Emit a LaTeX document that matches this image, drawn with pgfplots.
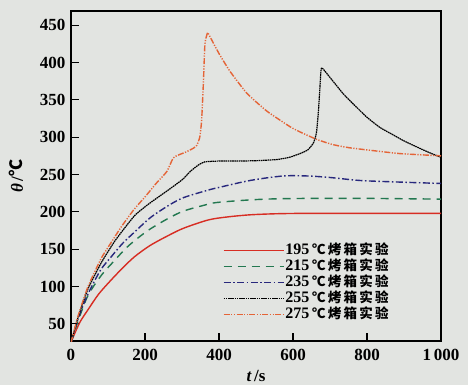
\documentclass[border=0pt]{standalone}
\usepackage{pgfplots}
\pgfplotsset{compat=1.18}
\usepackage{fontspec}
\setmainfont{Liberation Serif}
\newfontfamily\cjk{Noto Sans CJK SC}
\usetikzlibrary{backgrounds}
\definecolor{bg}{RGB}{226,228,225}
\definecolor{cred}{RGB}{215,45,35}
\definecolor{cgreen}{RGB}{35,120,80}
\definecolor{cblue}{RGB}{40,40,125}
\definecolor{corange}{RGB}{228,100,55}
\newcommand{\leg}[1]{#1\,{\cjk\fontsize{13.5}{14}\selectfont ℃\,烤\,箱\,实\,验}}
\begin{document}
\begin{tikzpicture}
\begin{axis}[name=ax,
  scale only axis, width=370pt, height=330pt,
  xmin=0, xmax=1000, ymin=27, ymax=469,
  xtick={0,200,400,600,800,1000},
  xticklabels={0,200,400,600,800,1\,000},
  ytick={50,100,...,450},
  tick align=inside, xtick pos=bottom, ytick pos=left,
  major tick length=8pt,
  tick style={line width=1.1pt, black},
  axis line style={line width=1.3pt},
  ticklabel style={font=\fontsize{17}{19}\selectfont\bfseries},
  xticklabel style={yshift=-5pt},
  yticklabel style={xshift=-2pt},
  /pgf/number format/assume math mode=true,
  xlabel={\bfseries\itshape t\,\upshape /s},
  ylabel={\bfseries\itshape θ\,\upshape/\cjk ℃},
  label style={font=\fontsize{17}{19}\selectfont},
  xlabel style={yshift=-2pt},
  ylabel style={yshift=10pt},
  legend style={draw=none, fill=none, at={(0.41,0.055)}, anchor=south west,
    font=\fontsize{16}{16}\selectfont\bfseries, row sep=0pt, inner sep=0pt,
    nodes={inner sep=1pt, text height=11pt, text depth=3pt}},
  legend cell align=left,
  legend image code/.code={\draw[#1, line width=1.5pt] (0pt,0pt) -- (60pt,0pt);},
  legend columns=1,
]
\addplot[cred, line width=1.4pt, smooth] coordinates {
(0,25) (10,37) (25,53) (46,69) (75,90) (109,109) (140,125) (172,140) (214,155) (262,168) (304,178) (370,189) (420,193) (484,196) (560,197.5) (650,198) (800,198) (1000,198)};
\addlegendentry{\leg{195}}
\addplot[cgreen, line width=1.4pt, dash pattern=on 8pt off 6pt, smooth] coordinates {
(0,25) (20,55) (46,88) (82,115) (118,135) (150,152) (181,165) (214,177) (262,191) (304,201) (361,209) (394,212.5) (484,216) (560,217.5) (650,218) (800,218) (1000,217)};
\addlegendentry{\leg{215}}
\addplot[cblue, line width=1.4pt, dash pattern=on 7pt off 2.5pt on 1.5pt off 2.5pt, smooth] coordinates {
(0,25) (20,58) (46,90) (80,122) (109,140) (140,158) (172,173) (214,192) (262,208) (304,219) (370,229) (394,232) (484,242) (573,248) (640,248) (700,246) (781,242) (880,240) (1000,238)};
\addlegendentry{\leg{235}}
\addplot[black, line width=1.2pt, dash pattern=on 1.6pt off 0.6pt, smooth, tension=0.3] coordinates {
(0,25) (20,60) (46,97) (82,132) (120,162) (172,195) (214,212) (268,231) (303,244) (322,254) (345,263) (362,267) (400,268) (450,268) (500,268.5) (556,270) (590,273) (619,278) (640,283) (655,292) (663,305) (668,330) (672,360) (675,385) (678,393) (700,380) (736,358) (770,341) (799,327) (835,313) (871,303) (900,295) (934,287) (970,279) (1000,273)};
\addlegendentry{\leg{255}}
\addplot[corange, line width=1.4pt, dash pattern=on 6pt off 1.5pt on 1.2pt off 1.5pt on 1.2pt off 1.5pt, smooth, tension=0.3] coordinates {
(0,25) (20,62) (46,100) (82,138) (110,160) (136,180) (170,203) (200,220) (230,238) (259,254) (276,272) (290,276) (310,280) (330,285) (340,289) (348,300) (353,322) (358,375) (362,425) (369,440) (372,438) (400,412) (430,388) (475,359) (529,335) (592,314) (619,307) (664,297) (708,290) (750,286) (799,283) (889,278) (1000,275)};
\addlegendentry{\leg{275}}
\end{axis}
\pgfresetboundingbox
\path ([xshift=-71pt,yshift=-44pt]ax.south west) rectangle ([xshift=27pt,yshift=11pt]ax.north east);
\begin{scope}[on background layer]
\fill[bg] ([xshift=-71pt,yshift=-44pt]ax.south west) rectangle ([xshift=27pt,yshift=11pt]ax.north east);
\end{scope}
\end{tikzpicture}
\end{document}
